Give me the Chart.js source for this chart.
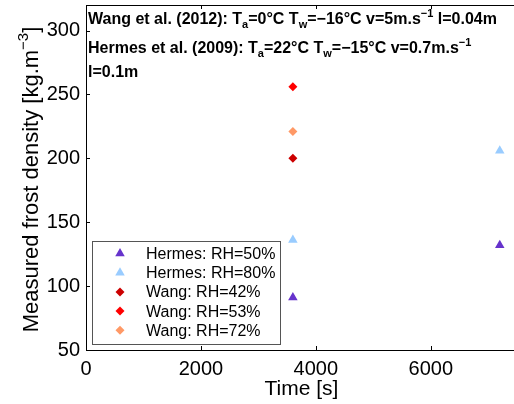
<!DOCTYPE html>
<html><head><meta charset="utf-8">
<script src="https://cdn.jsdelivr.net/npm/chart.js@4.4.1/dist/chart.umd.min.js"></script>
<style>html,body{margin:0;padding:0;background:#fff;overflow:hidden}
#wrap{position:relative;width:517px;height:404px}</style></head><body>
<div id="wrap"><canvas id="c"></canvas></div>
<script>
const xTicks=[0,2000,4000,6000];
const yTicks=[50,100,150,200,250,300];
const hermes50X=[3600,7200], hermes50Y=[91,132];
const hermes80X=[3600,7200], hermes80Y=[136,206];
const wang42X=[3600], wang42Y=[200];
const wang53X=[3600], wang53Y=[256];
const wang72X=[3600], wang72Y=[221];
const seriesLabels=['Hermes: RH=50%','Hermes: RH=80%','Wang: RH=42%','Wang: RH=53%','Wang: RH=72%'];
const xTitle='Time [s]';
const yTitleSegs=[['Measured frost density [kg.m',''],['\u22123','sup'],[']','']];
const noteLines=[
 [['Wang et al. (2012): T',''],['a','sub'],['=0\u00B0C T',''],['w','sub'],['=\u221216\u00B0C v=5m.s',''],['\u22121','sup'],[' l=0.04m','']],
 [['Hermes et al. (2009): T',''],['a','sub'],['=22\u00B0C T',''],['w','sub'],['=\u221215\u00B0C v=0.7m.s',''],['\u22121','sup']],
 [['l=0.1m','']]
];
const FAM='"Liberation Sans", Arial, Helvetica, sans-serif';
const pts=(xs,ys)=>xs.map((v,i)=>({x:v,y:ys[i]}));
const colors=['rgb(102,51,204)','rgb(153,204,255)','rgb(204,0,0)','rgb(255,0,0)','rgb(255,153,102)'];
const styles=['triangle','triangle','rectRot','rectRot','rectRot'];
const radii=[5.5,5.5,4.5,4.5,4.5];
const dataArr=[pts(hermes50X,hermes50Y),pts(hermes80X,hermes80Y),pts(wang42X,wang42Y),pts(wang53X,wang53Y),pts(wang72X,wang72Y)];
const datasets=dataArr.map((d,i)=>({label:seriesLabels[i],data:d,pointStyle:styles[i],pointRadius:radii[i],pointHoverRadius:radii[i],backgroundColor:colors[i],borderColor:colors[i],borderWidth:0,showLine:false}));

function richWidth(ctx,segs,base,small,weight){
 let w=0;for(const [t,m] of segs){ctx.font=`${weight} ${m?small:base}px ${FAM}`;w+=ctx.measureText(t).width;}return w;}
function rich(ctx,segs,x,y,base,small,weight,subOff,supOff){
 let cx=x;for(const [t,m] of segs){ctx.font=`${weight} ${m?small:base}px ${FAM}`;const dy=m==='sub'?subOff:m==='sup'?supOff:0;ctx.fillText(t,cx,y+dy);cx+=ctx.measureText(t).width;}return cx-x;}
function marker(ctx,style,x,y,r){
 ctx.beginPath();
 if(style==='triangle'){const s=Math.sin(Math.PI/3)*r;ctx.moveTo(x,y-r);ctx.lineTo(x+s,y+r/2);ctx.lineTo(x-s,y+r/2);}
 else{ctx.moveTo(x-r,y);ctx.lineTo(x,y-r);ctx.lineTo(x+r,y);ctx.lineTo(x,y+r);}
 ctx.closePath();ctx.fill();}

const overlay={id:'overlay',afterDraw(chart){
 const {ctx,chartArea:a,scales:{x,y}}=chart;
 ctx.save();
 ctx.strokeStyle='#000';ctx.lineWidth=1;
 ctx.beginPath();ctx.moveTo(a.left,a.top+0.5);ctx.lineTo(a.right,a.top+0.5);ctx.stroke();
 ctx.beginPath();
 xTicks.forEach(v=>{const px=Math.round(x.getPixelForValue(v))+0.5;ctx.moveTo(px,a.bottom);ctx.lineTo(px,a.bottom-4);ctx.moveTo(px,a.top);ctx.lineTo(px,a.top+4);});
 yTicks.forEach(v=>{const py=Math.round(y.getPixelForValue(v))+0.5;ctx.moveTo(a.left,py);ctx.lineTo(a.left+4,py);});
 ctx.stroke();
 ctx.fillStyle='#000';ctx.textBaseline='alphabetic';ctx.textAlign='left';
 const bl=[24,53,77];
 noteLines.forEach((segs,i)=>rich(ctx,segs,a.left+2,bl[i],16,11,'bold',4,-7));
 ctx.save();ctx.translate(30,(a.top+a.bottom)/2+2);ctx.rotate(-Math.PI/2);
 const tw=richWidth(ctx,yTitleSegs,22,15,'normal');
 rich(ctx,yTitleSegs,-tw/2,8,22,15,'normal',0,-10);
 ctx.restore();
 const L={x:92,y:241,w:188,h:103};
 ctx.fillStyle='#fff';ctx.fillRect(L.x,L.y,L.w,L.h);
 ctx.strokeStyle='#555';ctx.strokeRect(L.x+0.5,L.y+0.5,L.w,L.h);
 chart.data.datasets.forEach((ds,i)=>{
  const ry=L.y+12.5+i*19.2;
  ctx.fillStyle=ds.backgroundColor;marker(ctx,ds.pointStyle,120,ry,ds.pointRadius);
  ctx.fillStyle='#000';ctx.font=`16px ${FAM}`;ctx.textBaseline='middle';ctx.fillText(ds.label,146,ry+1);
 });
 ctx.restore();
}};

new Chart(document.getElementById('c'),{
 type:'scatter',
 data:{datasets},
 options:{responsive:true,maintainAspectRatio:false,animation:false,devicePixelRatio:1,
  layout:{autoPadding:false,padding:{top:5,right:0,left:0,bottom:0}},
  plugins:{legend:{display:false},tooltip:{enabled:false}},
  scales:{
   x:{type:'linear',min:0,max:7500,position:'bottom',
    grid:{display:false,drawTicks:false},border:{display:true,color:'#000',width:1},
    afterBuildTicks:s=>{s.ticks=xTicks.map(v=>({value:v}));},
    afterFit:s=>{s.height=54;s.paddingLeft=0;s.paddingRight=0;},
    ticks:{padding:7,color:'#000',font:{family:FAM,size:20},callback:v=>String(v),maxRotation:0,autoSkip:false},
    title:{display:true,text:xTitle,color:'#000',font:{family:FAM,size:21},padding:{top:0,bottom:2}}},
   y:{type:'linear',min:50,max:320,
    grid:{display:false,drawTicks:false},border:{display:true,color:'#000',width:1},
    afterBuildTicks:s=>{s.ticks=yTicks.map(v=>({value:v}));},
    afterFit:s=>{s.width=86;s.paddingTop=0;s.paddingBottom=0;},
    ticks:{padding:6,color:'#000',font:{family:FAM,size:20},callback:v=>String(v),autoSkip:false}}
  }},
 plugins:[overlay]
});
</script></body></html>
